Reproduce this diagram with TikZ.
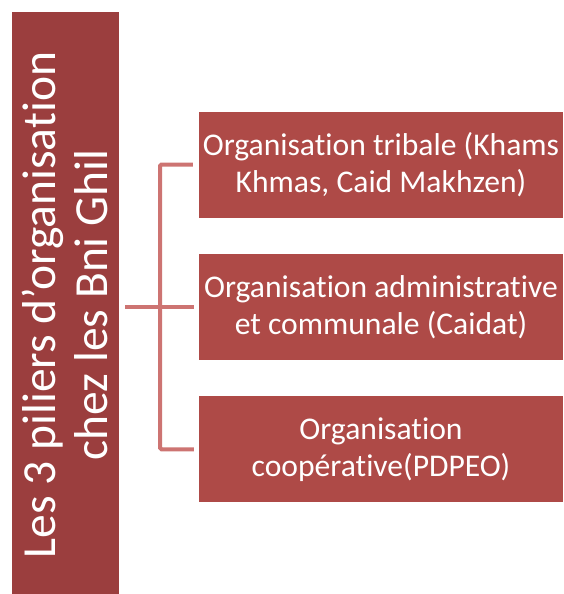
\documentclass[tikz,border=0pt]{standalone}
\usepackage{fontspec}
\setmainfont{Carlito}[RawFeature=-liga,RawFeature=-clig,RawFeature=-calt,RawFeature=-dlig]
\usetikzlibrary{positioning}
\definecolor{pilierred}{HTML}{9B3E3E}
\definecolor{boxred}{HTML}{AE4A47}
\definecolor{linkred}{HTML}{CD7472}
\begin{document}
\begin{tikzpicture}[x=1pt,y=1pt,
	pilier node/.style={rectangle,fill=pilierred,text=white,inner sep=0pt,minimum width=107pt,minimum height=582pt},
	org node/.style={rectangle,fill=boxred,text=white,inner sep=0pt,minimum width=364pt,minimum height=106pt,
		align=center,font=\fontsize{31.6}{37}\selectfont},
	link/.style={draw=linkred,line width=4pt,rounded corners=1.5pt}
]

	\def \gap {36pt};

	\useasboundingbox (0,0) rectangle (563,-594);

	\node[pilier node] at (65.5,-303) (pil) {};
	\node[rotate=90,text=white,align=center,font=\fontsize{47.5}{52}\selectfont] at (65,-305) (piltext)
		{Les 3 piliers d’organisation\\chez les Bni Ghil};

	\node[org node] at (381,-164.5) (org1) {Organisation tribale (Khams\\Khmas, Caid Makhzen)};
	\node[org node, below=\gap of org1] (org2) {Organisation administrative\\et communale (Caidat)};
	\node[org node, below=\gap of org2] (org3) {Organisation\\coopérative(PDPEO)};

	\coordinate (spine) at (160,0);

	\draw[link] ([xshift=6pt]pil.east |- org2.west) -- ([xshift=-5pt]org2.west);
	\draw[link] ([xshift=-6pt]org1.west) -| (spine |- org3.west) -- ([xshift=-5pt]org3.west);
\end{tikzpicture}
\end{document}
